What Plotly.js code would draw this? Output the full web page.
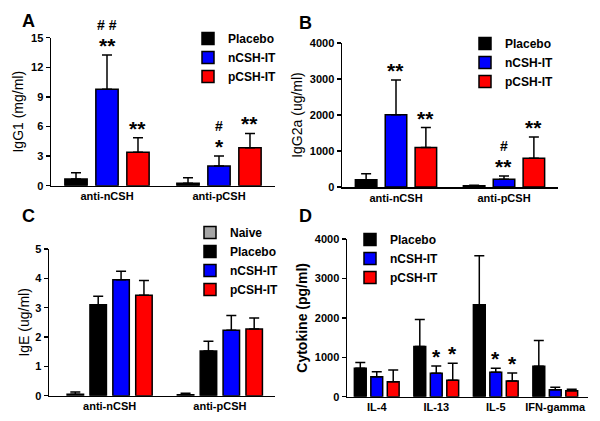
<!DOCTYPE html>
<html>
<head>
<meta charset="utf-8">
<script src="https://cdn.plot.ly/plotly-3.0.1.min.js"></script>
<style>
  html, body { margin: 0; padding: 0; background: #fff; }
  #chart { width: 600px; height: 421px; }
</style>
</head>
<body>
<div id="chart"></div>
<script>
// ---------- Data ----------
const groupsAB = ['anti-nCSH', 'anti-pCSH'];
const cytokines = ['IL-4', 'IL-13', 'IL-5', 'IFN-gamma'];

// Panel A: IgG1 (mg/ml) — mean and SEM
const A_placebo = [0.68, 0.25];
const A_placebo_sem = [0.64, 0.55];
const A_nCSH = [9.77, 2.0];
const A_nCSH_sem = [3.47, 1.0];
const A_pCSH = [3.38, 3.85];
const A_pCSH_sem = [1.48, 1.45];
const A_nCSH_stars = ['**', '*'];
const A_nCSH_hash = ['# #', '#'];
const A_pCSH_stars = ['**', '**'];

// Panel B: IgG2a (ug/ml)
const B_placebo = [200, 35];
const B_placebo_sem = [170, 15];
const B_nCSH = [2010, 214];
const B_nCSH_sem = [960, 92];
const B_pCSH = [1100, 800];
const B_pCSH_sem = [550, 590];
const B_nCSH_stars = ['**', '**'];
const B_nCSH_hash = ['', '#'];
const B_pCSH_stars = ['**', '**'];

// Panel C: IgE (ug/ml)
const C_naive = [0.05, 0.03];
const C_naive_sem = [0.075, 0.05];
const C_placebo = [3.1, 1.52];
const C_placebo_sem = [0.29, 0.34];
const C_nCSH = [3.95, 2.23];
const C_nCSH_sem = [0.29, 0.5];
const C_pCSH = [3.42, 2.27];
const C_pCSH_sem = [0.51, 0.38];

// Panel D: Cytokine (pg/ml)
const D_placebo = [720, 1272, 2333, 771];
const D_placebo_sem = [145, 687, 1240, 654];
const D_nCSH = [509, 593, 619, 178];
const D_nCSH_sem = [127, 187, 101, 59];
const D_pCSH = [382, 415, 399, 153];
const D_pCSH_sem = [296, 433, 204, 33];
const D_nCSH_stars = ['', '*', '*', ''];
const D_pCSH_stars = ['', '*', '*', ''];

// ---------- Styles ----------
const COL = { naive: '#a6a6a6', placebo: '#000000', nCSH: '#0000ff', pCSH: '#ff0000' };
const FONT = 'Liberation Sans, Arial, sans-serif';
const BARGAP = 0.17;

function barTrace(name, x, y, sem, color, xa, ya, legend) {
  return {
    type: 'bar', name: name, x: x, y: y,
    xaxis: xa, yaxis: ya, legend: legend, showlegend: true,
    marker: { color: color, line: { color: '#000', width: 1.5 } },
    error_y: { type: 'data', symmetric: false, array: sem, arrayminus: sem.map(() => 0),
               color: '#000', thickness: 1.5, width: 5 },
    hoverinfo: 'skip'
  };
}

const traces = [
  barTrace('Placebo', groupsAB, A_placebo, A_placebo_sem, COL.placebo, 'x', 'y', 'legend'),
  barTrace('nCSH-IT', groupsAB, A_nCSH, A_nCSH_sem, COL.nCSH, 'x', 'y', 'legend'),
  barTrace('pCSH-IT', groupsAB, A_pCSH, A_pCSH_sem, COL.pCSH, 'x', 'y', 'legend'),

  barTrace('Placebo', groupsAB, B_placebo, B_placebo_sem, COL.placebo, 'x2', 'y2', 'legend2'),
  barTrace('nCSH-IT', groupsAB, B_nCSH, B_nCSH_sem, COL.nCSH, 'x2', 'y2', 'legend2'),
  barTrace('pCSH-IT', groupsAB, B_pCSH, B_pCSH_sem, COL.pCSH, 'x2', 'y2', 'legend2'),

  barTrace('Naive', groupsAB, C_naive, C_naive_sem, COL.naive, 'x3', 'y3', 'legend3'),
  barTrace('Placebo', groupsAB, C_placebo, C_placebo_sem, COL.placebo, 'x3', 'y3', 'legend3'),
  barTrace('nCSH-IT', groupsAB, C_nCSH, C_nCSH_sem, COL.nCSH, 'x3', 'y3', 'legend3'),
  barTrace('pCSH-IT', groupsAB, C_pCSH, C_pCSH_sem, COL.pCSH, 'x3', 'y3', 'legend3'),

  barTrace('Placebo', cytokines, D_placebo, D_placebo_sem, COL.placebo, 'x4', 'y4', 'legend4'),
  barTrace('nCSH-IT', cytokines, D_nCSH, D_nCSH_sem, COL.nCSH, 'x4', 'y4', 'legend4'),
  barTrace('pCSH-IT', cytokines, D_pCSH, D_pCSH_sem, COL.pCSH, 'x4', 'y4', 'legend4')
];

// significance annotations, placed from the data (bar offset within group + top of error bar)
const annotations = [];
function sigAnn(labels, means, sems, traceIdx, nTraces, xa, ya, size, yshift) {
  const gw = 1 - BARGAP;
  const off = (traceIdx + 0.5 - nTraces / 2) * gw / nTraces;
  labels.forEach((t, i) => {
    if (!t) return;
    annotations.push({
      xref: xa, yref: ya, x: i + off, y: means[i] + sems[i],
      text: t, showarrow: false, xanchor: 'center', yanchor: 'bottom',
      yshift: yshift,
      font: { family: FONT, size: size, color: '#000', weight: 'bold' }
    });
  });
}
const STAR = 21, STAR_SHIFT = -4, HASH = 14, HASH_SHIFT = 20;
sigAnn(A_nCSH_stars, A_nCSH, A_nCSH_sem, 1, 3, 'x', 'y', STAR, STAR_SHIFT);
sigAnn(A_nCSH_hash, A_nCSH, A_nCSH_sem, 1, 3, 'x', 'y', HASH, HASH_SHIFT);
sigAnn(A_pCSH_stars, A_pCSH, A_pCSH_sem, 2, 3, 'x', 'y', STAR, STAR_SHIFT);
sigAnn(B_nCSH_stars, B_nCSH, B_nCSH_sem, 1, 3, 'x2', 'y2', STAR, STAR_SHIFT);
sigAnn(B_nCSH_hash, B_nCSH, B_nCSH_sem, 1, 3, 'x2', 'y2', HASH, HASH_SHIFT);
sigAnn(B_pCSH_stars, B_pCSH, B_pCSH_sem, 2, 3, 'x2', 'y2', STAR, STAR_SHIFT);
sigAnn(D_nCSH_stars, D_nCSH, D_nCSH_sem, 1, 3, 'x4', 'y4', STAR, STAR_SHIFT);
sigAnn(D_pCSH_stars, D_pCSH, D_pCSH_sem, 2, 3, 'x4', 'y4', STAR, STAR_SHIFT);

// panel letters
[['A', 20, 21.5], ['B', 297, 23], ['C', 20, 216], ['D', 297, 216]].forEach(([t, px, py]) => {
  annotations.push({
    xref: 'paper', yref: 'paper', x: px / 600, y: 1 - py / 421,
    xanchor: 'left', yanchor: 'middle', text: t, showarrow: false,
    font: { family: FONT, size: 18, color: '#000', weight: 'bold' }
  });
});

const W = 600, H = 421;
function dom(a, b) { return [a / W, b / W]; }
function ydom(top, bottom) { return [1 - bottom / H, 1 - top / H]; }

function xAxis(d, range, anchor) {
  return {
    domain: d, type: 'category', range: range, anchor: anchor,
    showline: true, linecolor: '#000', linewidth: 1.5,
    ticks: '', showgrid: false, zeroline: false, fixedrange: true,
    tickfont: { family: FONT, size: 11, color: '#000', weight: 'bold' }
  };
}
function yAxis(d, range, dtick, title, anchor, standoff, weight) {
  return {
    domain: d, range: range, dtick: dtick, anchor: anchor,
    showline: true, linecolor: '#000', linewidth: 1.5,
    ticks: 'outside', ticklen: 4, tickwidth: 1.5, tickcolor: '#000',
    showgrid: false, zeroline: false, fixedrange: true,
    tickfont: { family: FONT, size: 11, color: '#000', weight: 'bold' },
    title: { text: title, standoff: standoff,
             font: { family: FONT, size: 14, color: '#000', weight: weight } }
  };
}
function legendBox(xpx, ypx) {
  return {
    x: xpx / W, y: 1 - ypx / H, xanchor: 'left', yanchor: 'top',
    bgcolor: 'rgba(0,0,0,0)', borderwidth: 0,
    font: { family: FONT, size: 12, color: '#000', weight: 'bold' },
    itemclick: false, itemdoubleclick: false
  };
}

const layout = {
  width: W, height: H,
  margin: { l: 0, r: 0, t: 0, b: 0 },
  paper_bgcolor: '#fff', plot_bgcolor: '#fff',
  barmode: 'group', bargap: BARGAP, bargroupgap: 0.28,
  font: { family: FONT, color: '#000' },
  xaxis:  xAxis(dom(51, 275), [-0.5, 1.5], 'y'),
  yaxis:  yAxis(ydom(37.7, 185.7), [0, 15], 3, 'IgG1 (mg/ml)', 'x', 4, 'normal'),
  xaxis2: xAxis(dom(342, 558), [-0.5, 1.5], 'y2'),
  yaxis2: yAxis(ydom(43, 187), [0, 4000], 1000, 'IgG2a (ug/ml)', 'x2', 4, 'normal'),
  xaxis3: xAxis(dom(49, 275), [-0.55, 1.5], 'y3'),
  yaxis3: yAxis(ydom(249, 395.7), [0, 5], 1, 'IgE (ug/ml)', 'x3', 2, 'normal'),
  xaxis4: xAxis(dom(347, 588), [-0.5, 3.55], 'y4'),
  yaxis4: yAxis(ydom(239, 396.7), [0, 4000], 1000, 'Cytokine (pg/ml)', 'x4', 4, 'bold'),
  legend:  legendBox(188, 24),
  legend2: legendBox(465, 29),
  legend3: legendBox(190, 218),
  legend4: legendBox(350, 225),
  annotations: annotations
};

Plotly.newPlot('chart', traces, layout, { staticPlot: true, displayModeBar: false });
</script>
</body>
</html>
